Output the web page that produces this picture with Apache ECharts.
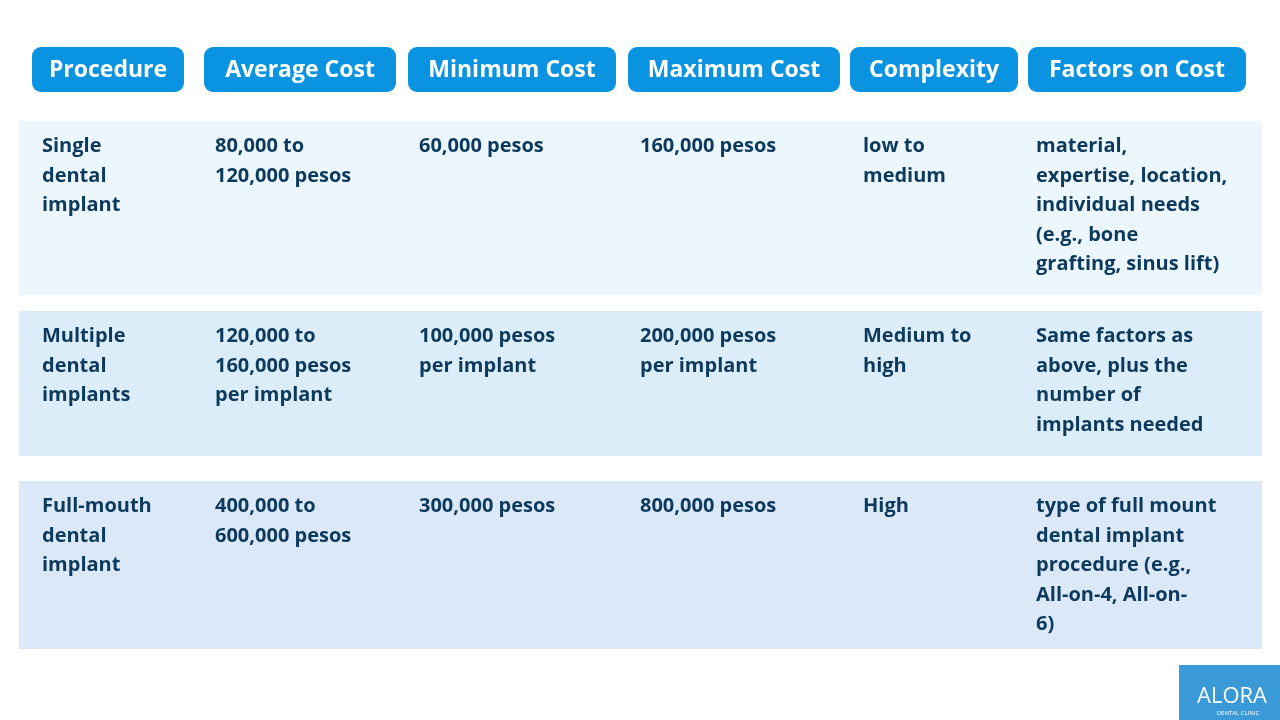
<!DOCTYPE html>
<html><head><meta charset="utf-8">
<script src="https://cdn.jsdelivr.net/npm/echarts@6/dist/echarts.min.js"></script>
<style>html,body{margin:0;background:#fff}#chart{width:1280px;height:720px}</style>
</head><body><div id="chart"></div>
<script>
// table content
const headers = ['Procedure', 'Average Cost', 'Minimum Cost', 'Maximum Cost', 'Complexity', 'Factors on Cost'];
const procedures = ['Single\ndental\nimplant', 'Multiple\ndental\nimplants', 'Full-mouth\ndental\nimplant'];
const avgCost = ['80,000 to\n120,000 pesos', '120,000 to\n160,000 pesos\nper implant', '400,000 to\n600,000 pesos'];
const minCost = ['60,000 pesos', '100,000 pesos\nper implant', '300,000 pesos'];
const maxCost = ['160,000 pesos', '200,000 pesos\nper implant', '800,000 pesos'];
const complexity = ['low to\nmedium', 'Medium to\nhigh', 'High'];
const factors = [
  'material,\nexpertise, location,\nindividual needs\n(e.g., bone\ngrafting, sinus lift)',
  'Same factors as\nabove, plus the\nnumber of\nimplants needed',
  'type of full mount\ndental implant\nprocedure (e.g.,\nAll-on-4, All-on-\n6)'
];

const FONT = '"Open Sans", sans-serif';
const pills = [[32, 152], [204, 192], [408, 208], [628, 212], [850, 168], [1028, 218]];
const textX = [42, 215, 419, 640, 863, 1036];
const rows = [[121, 174, '#ebf6fd'], [311, 145, '#dcedfa'], [481, 168, '#dae8f7']];
const columns = [procedures, avgCost, minCost, maxCost, complexity, factors];

let myChart = echarts.init(document.getElementById('chart'));
let elements = [];
headers.forEach((h, i) => {
  elements.push({
    type: 'rect', shape: { x: pills[i][0], y: 47, width: pills[i][1], height: 45, r: 9 },
    style: { fill: '#0a93e1' }
  });
  elements.push({
    type: 'text', x: pills[i][0] + pills[i][1] / 2, y: 70,
    style: { text: h, fill: '#fff', font: 'bold 23px ' + FONT, align: 'center', verticalAlign: 'middle' }
  });
});
rows.forEach((r, ri) => {
  elements.push({ type: 'rect', shape: { x: 19, y: r[0], width: 1243, height: r[1] }, style: { fill: r[2] } });
  columns.forEach((col, ci) => {
    elements.push({
      type: 'text', x: textX[ci], y: r[0] + 11,
      style: { text: col[ri], fill: '#0d3a5c', font: 'bold 20px ' + FONT, lineHeight: 29.5, verticalAlign: 'top' }
    });
  });
});
// logo
elements.push({ type: 'rect', shape: { x: 1179, y: 665, width: 101, height: 55 }, style: { fill: '#3a9ad8' } });
elements.push({ type: 'text', x: 1232, y: 697, style: { text: 'ALORA', fill: '#fff', font: '22px ' + FONT, align: 'center', verticalAlign: 'middle' } });
elements.push({ type: 'text', x: 1238, y: 713, style: { text: 'DENTAL CLINIC', fill: '#fff', font: '6px ' + FONT, align: 'center', verticalAlign: 'middle' } });

myChart.setOption({ animation: false, graphic: { elements: elements } });
</script></body></html>
